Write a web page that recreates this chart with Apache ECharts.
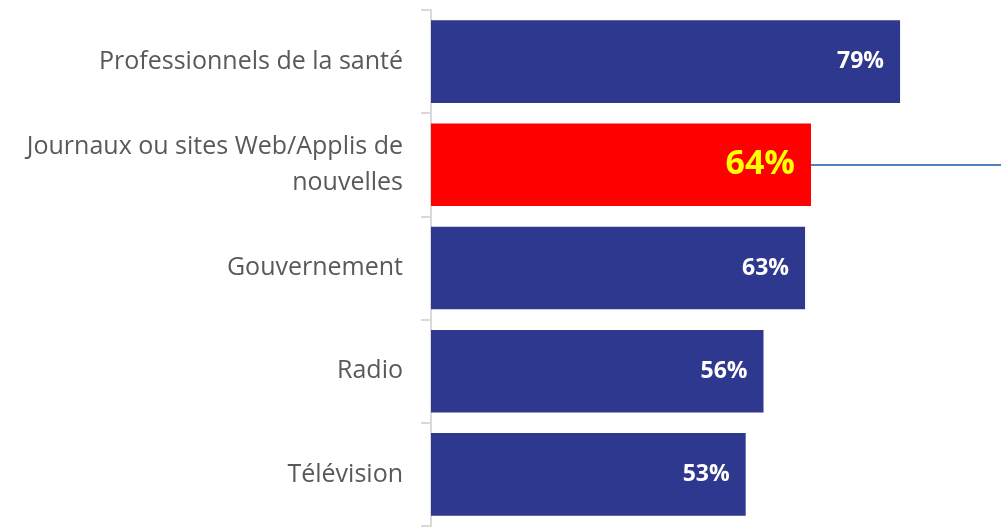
<!DOCTYPE html>
<html>
<head>
<meta charset="utf-8">
<script src="https://cdn.jsdelivr.net/npm/echarts@6/dist/echarts.min.js"></script>
<style>
  html, body { margin: 0; padding: 0; background: #fff; }
  #main { width: 1001px; height: 531px; }
</style>
</head>
<body>
<div id="main"></div>
<script>
// données
var categories = ['Professionnels de la santé', 'Journaux ou sites Web/Applis de\nnouvelles', 'Gouvernement', 'Radio', 'Télévision'];
var values = [79, 64, 63, 56, 53];
var highlightIndex = 1;

var chart = echarts.init(document.getElementById('main'));

var barData = values.map(function (v, i) {
    if (i === highlightIndex) {
        return {
            value: v,
            itemStyle: { color: '#FF0000' },
            label: { color: '#FFFF00', fontSize: 34, distance: 16 }
        };
    }
    return v;
});

chart.setOption({
    animation: false,
    grid: { left: 431, right: 0, top: 10, bottom: 5, containLabel: false },
    xAxis: {
        type: 'value',
        min: 0,
        max: 96,
        show: false
    },
    yAxis: {
        type: 'category',
        inverse: true,
        data: categories,
        axisLine: { lineStyle: { color: '#D9D9D9', width: 2 } },
        axisTick: { show: true, length: 10, lineStyle: { color: '#D9D9D9', width: 2 } },
        axisLabel: {
            color: '#595959',
            fontFamily: 'Open Sans',
            fontSize: 25,
            lineHeight: 36,
            margin: 28,
            align: 'right',
            padding: [12, 0, 0, 0]
        }
    },
    series: [{
        type: 'bar',
        data: barData,
        barCategoryGap: '20%',
        itemStyle: { color: '#2E388E' },
        label: {
            show: true,
            position: 'insideRight',
            distance: 16,
            formatter: '{c}%',
            color: '#FFFFFF',
            fontWeight: 'bold',
            fontFamily: 'Open Sans',
            fontSize: 23
        },
        markLine: {
            silent: true,
            symbol: 'none',
            label: { show: false },
            lineStyle: { color: '#4F81BD', width: 2, type: 'solid' },
            data: [[
                { coord: [values[highlightIndex], categories[highlightIndex]] },
                { coord: [96, categories[highlightIndex]] }
            ]]
        }
    }]
});
</script>
</body>
</html>
